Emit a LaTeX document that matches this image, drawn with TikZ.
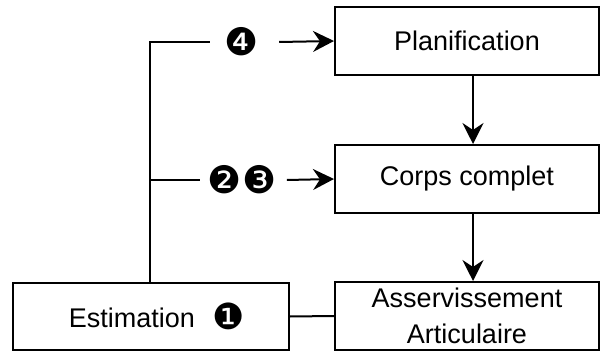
\documentclass[tikz,border=0pt]{standalone}
\usepackage{fontspec}
\setmainfont{Liberation Sans}
\newfontfamily\dingfont{DejaVu Sans}
\usetikzlibrary{arrows.meta}
\begin{document}
\begin{tikzpicture}[x=1pt,y=-1pt,
  box/.style={draw,line width=2pt,minimum width=264pt,minimum height=68pt,inner sep=0pt,align=center,
    font=\fontsize{27}{36}\selectfont},
  num/.style={inner sep=0pt,font=\dingfont\fontsize{38}{40}\selectfont},
  ln/.style={line width=2pt},
  arr/.style={line width=2pt,-{Stealth[length=21pt,width=21pt,inset=7pt]}}]
\useasboundingbox (0,0) rectangle (601,352);
\node[box] (plan) at (467,41) {Planification};
\node[box] (corps) at (467,179) {Corps complet};
\node[box] (asserv) at (467,316) {Asservissement\\Articulaire};
\node[box,minimum width=276pt,minimum height=67pt] (estim) at (151,316.5) {\hspace*{12pt}Estimation\hspace{18pt}\raisebox{-2pt}{\dingfont\fontsize{36}{40}\selectfont ❶}};
\node[num] (n4) at (242,42) {❹};
\node[num] (n23) at (242,180) {❷\hspace{1pt}❸};
\coordinate (top) at (150,42);
\coordinate (mid) at (150,180);
\draw[ln] (estim.north -| top) -- (top) -- ([xshift=-15pt]n4.west);
\draw[ln] (mid) -- ([xshift=-7pt]n23.west);
\draw[arr] ([xshift=20pt]n4.east) -- (plan.west);
\draw[arr] ([xshift=10pt]n23.east) -- (corps.west);
\draw[arr] ([xshift=6pt]plan.south) -- ([xshift=6pt]corps.north);
\draw[arr] ([xshift=6pt]corps.south) -- ([xshift=6pt]asserv.north);
\draw[ln] (estim.east) -- (asserv.west);
\end{tikzpicture}
\end{document}
